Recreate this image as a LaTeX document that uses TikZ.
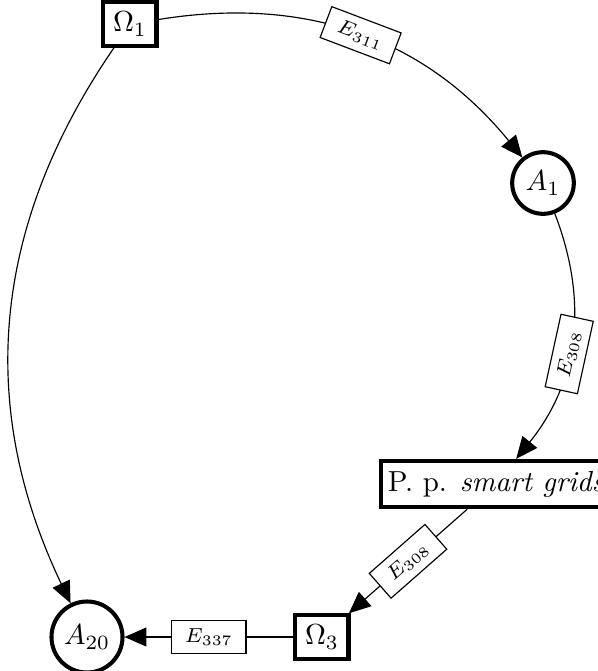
\documentclass[tikz,border=0pt]{standalone}
\usepackage{amsmath,amssymb}
\usetikzlibrary{arrows.meta, positioning}

\begin{document}
\begin{tikzpicture}[
    omega/.style={draw, line width=1.4pt, inner sep=3.3pt},
    agent/.style={draw, circle, line width=1.4pt, inner sep=2.4pt},
    plat/.style={draw, line width=1.4pt, inner sep=2.2pt, minimum height=16pt},
    lbl/.style={draw, fill=white, font=\scriptsize, inner xsep=4.5pt, inner ysep=2.8pt, sloped},
    arrow/.style={-{Triangle[length=7.5pt, width=6.5pt]}}
]
    \useasboundingbox (0,0) rectangle (7.239,8.136);
    \node[omega] (o1)  at (1.576,7.845) {$\Omega_1$};
    \node[agent] (a1)  at (6.584,5.917) {$A_1$};
    \node[plat, anchor=west] (pp) at (4.600,2.267) {P. p. \emph{smart grids}};
    \node[omega] (o3)  at (3.904,0.412) {$\Omega_3$};
    \node[agent] (a20) at (1.055,0.412) {$A_{20}$};

    \draw[arrow] (o1) to[bend left=30] node[lbl] {$E_{311}$} (a1);
    \draw[arrow] (a1) to[bend left=30] node[lbl, pos=0.55] {$E_{308}$} (pp);
    \draw[arrow] (pp) -- node[lbl] {$E_{308}$} (o3);
    \draw[arrow] (o3) -- node[lbl] {$E_{337}$} (a20);
    \draw[arrow] (o1) to[bend right=30] (a20);
\end{tikzpicture}
\end{document}
